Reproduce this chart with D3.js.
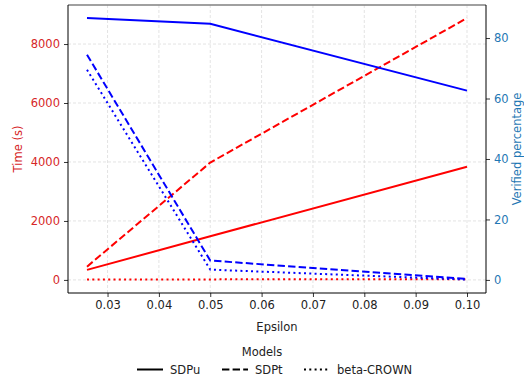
<!DOCTYPE html>
<html>
<head>
<meta charset="utf-8">
<script src="https://cdn.jsdelivr.net/npm/d3@7"></script>
<style>
  body { margin: 0; background: #fff; }
  svg text { font-family: "DejaVu Sans", sans-serif; }
</style>
</head>
<body>
<div id="chart"></div>
<script>
// epsilon values and the three models
var epsilons = [0.026, 0.05, 0.1];
var models = ["SDPu", "SDPt", "beta-CROWN"];

// time in seconds, one array per model
var timeSDPu = [340, 1480, 3836];
var timeSDPt = [450, 3980, 8880];
var timeBeta = [15, 18, 22];

// verified percentage, one array per model
var verSDPu = [86.6, 84.7, 62.6];
var verSDPt = [74.5, 6.4, 0.3];
var verBeta = [69.5, 3.4, 0.1];

var xTicks = [0.03, 0.04, 0.05, 0.06, 0.07, 0.08, 0.09, 0.10];
var timeTicks = [0, 2000, 4000, 6000, 8000];
var verTicks = [0, 20, 40, 60, 80];

(function() {
  var W = 524, H = 377;
  var margin = { top: 5, left: 68, right: 38, bottom: 84 };
  var width = W - margin.left - margin.right,
      height = H - margin.top - margin.bottom;

  var svg = d3.select("#chart").append("svg")
    .attr("width", W)
    .attr("height", H);

  var g = svg.append("g")
    .attr("transform", "translate(" + margin.left + "," + margin.top + ")");

  var x = d3.scaleLinear().domain([0.0223, 0.1037]).range([0, width]);
  var yL = d3.scaleLinear().domain([-444, 9324]).range([height, 0]);
  var yR = d3.scaleLinear().domain([-4.33, 90.93]).range([height, 0]);

  // grid
  g.selectAll(".vgrid").data(xTicks).enter().append("line")
    .attr("x1", function(d) { return x(d); })
    .attr("x2", function(d) { return x(d); })
    .attr("y1", 0).attr("y2", height)
    .attr("stroke", "#dcdcdc").attr("stroke-width", 0.8)
    .attr("stroke-dasharray", "3,2");
  g.selectAll(".hgrid").data(timeTicks).enter().append("line")
    .attr("x1", 0).attr("x2", width)
    .attr("y1", function(d) { return yL(d); })
    .attr("y2", function(d) { return yL(d); })
    .attr("stroke", "#dcdcdc").attr("stroke-width", 0.8)
    .attr("stroke-dasharray", "3,2");

  var dashes = { "SDPu": null, "SDPt": "7.4,3.2", "beta-CROWN": "2,3.3" };

  var timeSeries = [timeSDPu, timeSDPt, timeBeta];
  var verSeries = [verSDPu, verSDPt, verBeta];

  var lineL = d3.line()
    .x(function(d, i) { return x(epsilons[i]); })
    .y(function(d) { return yL(d); });
  var lineR = d3.line()
    .x(function(d, i) { return x(epsilons[i]); })
    .y(function(d) { return yR(d); });

  models.forEach(function(m, k) {
    g.append("path")
      .attr("d", lineL(timeSeries[k]))
      .attr("fill", "none")
      .attr("stroke", "red")
      .attr("stroke-width", 2)
      .attr("stroke-dasharray", dashes[m]);
  });
  models.forEach(function(m, k) {
    g.append("path")
      .attr("d", lineR(verSeries[k]))
      .attr("fill", "none")
      .attr("stroke", "blue")
      .attr("stroke-width", 2)
      .attr("stroke-dasharray", dashes[m]);
  });

  // axes
  var fmtX = d3.format(".2f");
  var xAxis = g.append("g")
    .attr("transform", "translate(0," + height + ")")
    .call(d3.axisBottom(x).tickValues(xTicks).tickFormat(fmtX).tickSize(4).tickPadding(4));
  var lAxis = g.append("g")
    .call(d3.axisLeft(yL).tickValues(timeTicks).tickFormat(d3.format("d")).tickSize(4).tickPadding(4));
  var rAxis = g.append("g")
    .attr("transform", "translate(" + width + ",0)")
    .call(d3.axisRight(yR).tickValues(verTicks).tickFormat(d3.format("d")).tickSize(4).tickPadding(4));

  [xAxis, lAxis, rAxis].forEach(function(a) {
    a.select(".domain").remove();
    a.selectAll("line").attr("stroke", "#000").attr("stroke-width", 0.8);
    a.selectAll("text").attr("font-size", 11.5);
  });
  xAxis.selectAll("text").attr("fill", "#222");
  lAxis.selectAll("text").attr("fill", "#d62728");
  rAxis.selectAll("text").attr("fill", "#1f77b4");

  // frame
  g.append("line").attr("x1", 0).attr("x2", width).attr("y1", 0).attr("y2", 0)
    .attr("stroke", "#808080").attr("stroke-width", 1.6);
  g.append("line").attr("x1", 0).attr("x2", 0).attr("y1", 0).attr("y2", height)
    .attr("stroke", "#000").attr("stroke-width", 1);
  g.append("line").attr("x1", width).attr("x2", width).attr("y1", 0).attr("y2", height)
    .attr("stroke", "#000").attr("stroke-width", 1);
  g.append("line").attr("x1", 0).attr("x2", width).attr("y1", height).attr("y2", height)
    .attr("stroke", "#000").attr("stroke-width", 1);

  // axis titles
  g.append("text")
    .attr("x", width / 2).attr("y", height + 38)
    .attr("text-anchor", "middle").attr("font-size", 11.5).attr("fill", "#222")
    .text("Epsilon");
  g.append("text")
    .attr("transform", "translate(" + (-46) + "," + (height / 2) + ") rotate(-90)")
    .attr("text-anchor", "middle").attr("font-size", 11.5).attr("fill", "#d62728")
    .text("Time (s)");
  g.append("text")
    .attr("transform", "translate(" + (width + 34.5) + "," + (height / 2) + ") rotate(-90)")
    .attr("text-anchor", "middle").attr("font-size", 11.5).attr("fill", "#1f77b4")
    .text("Verified percentage");

  // legend
  var leg = svg.append("g");
  leg.append("text")
    .attr("x", 262).attr("y", 356)
    .attr("text-anchor", "middle").attr("font-size", 11.5).attr("fill", "#222")
    .text("Models");
  var legX = [137, 222, 304];
  models.forEach(function(m, k) {
    leg.append("line")
      .attr("x1", legX[k]).attr("x2", legX[k] + 26)
      .attr("y1", 369.5).attr("y2", 369.5)
      .attr("stroke", "#000").attr("stroke-width", 2)
      .attr("stroke-dasharray", dashes[m]);
    leg.append("text")
      .attr("x", legX[k] + 33).attr("y", 374)
      .attr("font-size", 11.5).attr("fill", "#222")
      .text(m);
  });
})();
</script>
</body>
</html>
